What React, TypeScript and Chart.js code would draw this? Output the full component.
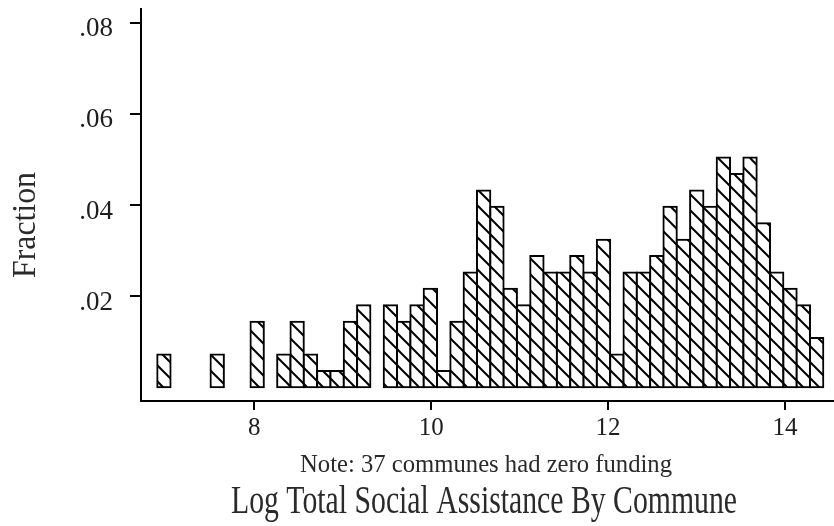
import React, { useEffect, useRef } from 'react';
import { Chart, registerables } from 'chart.js';

Chart.register(...registerables);

// ---- Data ----
const BIN_START = 6.903; // left edge of first histogram bin
const BIN_WIDTH = 0.1506; // width of each bin (log units)
// Fraction of communes in each of the 50 bins (0 = empty bin)
const binFractions = [
  0.0072, 0, 0, 0, 0.0072, 0, 0, 0.0144, 0, 0.0072,
  0.0144, 0.0072, 0.0036, 0.0036, 0.0144, 0.018, 0, 0.018, 0.0144, 0.018,
  0.0216, 0.0036, 0.0144, 0.0252, 0.0432, 0.0396, 0.0216, 0.018, 0.0288, 0.0252,
  0.0252, 0.0288, 0.0252, 0.0324, 0.0072, 0.0252, 0.0252, 0.0288, 0.0396, 0.0324,
  0.0432, 0.0396, 0.0504, 0.0468, 0.0504, 0.036, 0.0252, 0.0216, 0.018, 0.0108,
];
const xTickValues = [8, 10, 12, 14];
const yTickValues = [0.02, 0.04, 0.06, 0.08];
const X_MIN = 6.719;
const X_MAX = 14.554;
const Y_MIN = -0.003;
const Y_MAX = 0.083;

const Y_TITLE = 'Fraction';
const X_TITLE = 'Log Total Social Assistance By Commune';
const NOTE = 'Note: 37 communes had zero funding';

const FONT = "'Liberation Serif', 'DejaVu Serif', serif";

function drawCondensed(
  ctx: CanvasRenderingContext2D,
  text: string,
  cx: number,
  baseline: number,
  fontPx: number,
  targetWidth: number,
  rotate: boolean,
) {
  ctx.save();
  ctx.font = `${fontPx}px ${FONT}`;
  const w = ctx.measureText(text).width;
  const sx = targetWidth / w;
  ctx.translate(cx, baseline);
  if (rotate) ctx.rotate(-Math.PI / 2);
  ctx.scale(sx, 1);
  ctx.fillStyle = '#2a2a2a';
  ctx.textAlign = 'center';
  ctx.textBaseline = 'alphabetic';
  ctx.fillText(text, 0, 0);
  ctx.restore();
}

export default function App() {
  const ref = useRef<HTMLCanvasElement>(null);

  useEffect(() => {
    const canvas = ref.current;
    if (!canvas) return;

    // hatch pattern "\\\"
    const P = 16;
    const tile = document.createElement('canvas');
    tile.width = P;
    tile.height = P;
    const t = tile.getContext('2d')!;
    t.fillStyle = '#ffffff';
    t.fillRect(0, 0, P, P);
    t.strokeStyle = '#000000';
    t.lineWidth = 2;
    t.beginPath();
    t.moveTo(-2, -2);
    t.lineTo(P + 2, P + 2);
    t.moveTo(P - 2, -2);
    t.lineTo(P + 2, 2);
    t.moveTo(-2, P - 2);
    t.lineTo(2, P + 2);
    t.stroke();
    const pattern = canvas.getContext('2d')!.createPattern(tile, 'repeat')!;

    const data = binFractions
      .map((v, i) => ({ x: BIN_START + BIN_WIDTH * (i + 0.5), y: v }))
      .filter((d) => d.y > 0);

    const textPlugin = {
      id: 'textPlugin',
      afterDraw(chart: any) {
        const { ctx } = chart;
        // y-axis title (rotated)
        drawCondensed(ctx, Y_TITLE, 35, 225, 33, 106, true);
        // note under the x axis
        drawCondensed(ctx, NOTE, 486, 472, 25.5, 372, false);
        // x-axis title
        drawCondensed(ctx, X_TITLE, 484, 513, 39, 506, false);
      },
    };

    const chart = new Chart(canvas, {
      type: 'bar',
      data: {
        datasets: [
          {
            data: data as any,
            backgroundColor: pattern as any,
            borderColor: '#000000',
            borderWidth: 2,
            borderSkipped: false,
            inflateAmount: 1,
            barPercentage: 1,
            categoryPercentage: 1,
          } as any,
        ],
      },
      options: {
        animation: false,
        responsive: false,
        layout: { padding: { top: 9, right: 0, bottom: 0, left: 0 } },
        plugins: {
          legend: { display: false },
          tooltip: { enabled: false },
        },
        scales: {
          x: {
            type: 'linear',
            min: X_MIN,
            max: X_MAX,
            offset: false,
            afterBuildTicks: (s: any) => {
              s.ticks = xTickValues.map((v) => ({ value: v }));
            },
            afterFit: (s: any) => {
              s.height = 125;
              s.paddingLeft = 0;
              s.paddingRight = 0;
            },
            grid: {
              offset: false,
              drawOnChartArea: false,
              drawTicks: true,
              tickLength: 9,
              tickWidth: 2,
              tickColor: '#000000',
              color: '#000000',
              lineWidth: 2,
            },
            border: { display: true, color: '#000000', width: 2 },
            ticks: {
              padding: 3,
              color: '#1e1e1e',
              font: { family: FONT, size: 25 },
              maxRotation: 0,
              autoSkip: false,
              callback: (v: any) => String(v),
            },
            title: { display: false, text: X_TITLE },
          },
          y: {
            type: 'linear',
            min: Y_MIN,
            max: Y_MAX,
            afterBuildTicks: (s: any) => {
              s.ticks = yTickValues.map((v) => ({ value: v }));
            },
            afterFit: (s: any) => {
              s.width = 141;
              s.paddingTop = 0;
              s.paddingBottom = 0;
            },
            grid: {
              drawOnChartArea: false,
              drawTicks: true,
              tickLength: 11,
              tickWidth: 2,
              tickColor: '#000000',
              color: '#000000',
              lineWidth: 2,
            },
            border: { display: true, color: '#000000', width: 2 },
            ticks: {
              padding: 17,
              labelOffset: 6.5,
              color: '#1e1e1e',
              font: { family: FONT, size: 27 },
              autoSkip: false,
              callback: (v: any) => Number(v).toFixed(2).replace(/^0/, ''),
            },
            title: { display: false, text: Y_TITLE },
          },
        },
      },
      plugins: [textPlugin],
    });

    return () => chart.destroy();
  }, []);

  return (
    <div style={{ position: 'fixed', left: 0, top: 0, width: 834, height: 526, background: '#fff' }}>
      <canvas ref={ref} width={834} height={526} style={{ display: 'block' }} />
    </div>
  );
}
